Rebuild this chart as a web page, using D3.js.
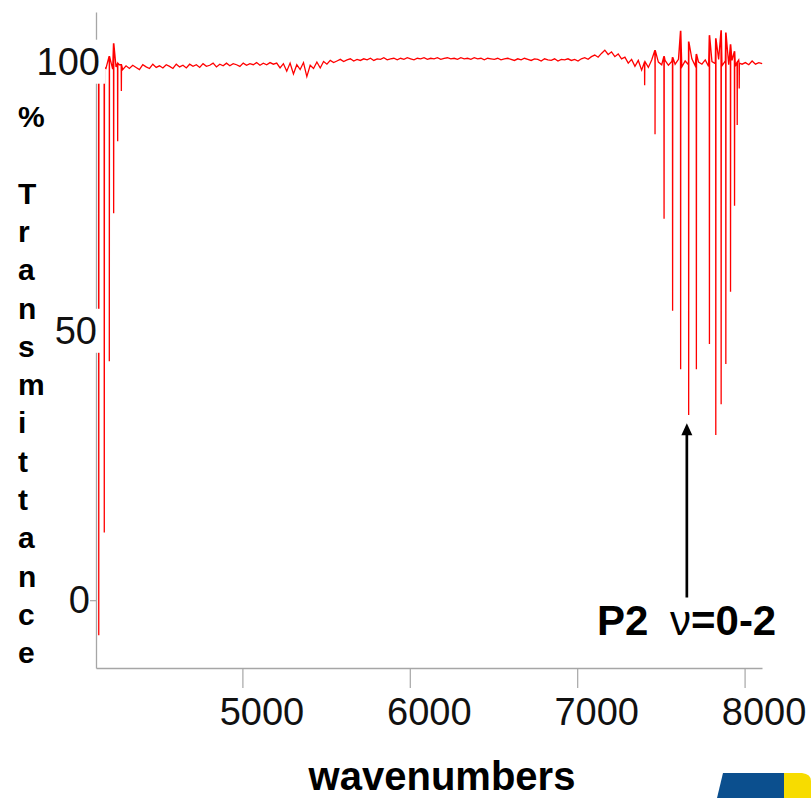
<!DOCTYPE html>
<html>
<head>
<meta charset="utf-8">
<script src="https://cdn.jsdelivr.net/npm/d3@7"></script>
<style>
  body { margin: 0; background: #fff; }
  svg { display: block; }
  text { font-family: "Liberation Sans", Arial, sans-serif; }
</style>
</head>
<body>
<svg id="chart"></svg>
<script>
// axis ticks
const xTicks = [5000, 6000, 7000, 8000];
const yTicks = [0, 50, 100];

// baseline of the spectrum, one sample every 20 cm-1 starting at 4125
const baseStart = 4125, baseStep = 20;
const baseline = [
  99.2, 98.5, 99.4, 98.8, 99.6, 98.7, 99.1, 99.5, 98.6, 99.3,
  98.8, 99.4, 99.0, 98.6, 99.5, 99.1, 98.8, 99.6, 99.0, 99.3,
  98.9, 99.5, 99.2, 98.8, 99.6, 99.1, 99.4, 98.9, 99.6, 99.2,
  99.5, 99.0, 99.7, 99.2, 99.4, 99.8, 99.1, 99.6, 99.3, 99.8,
  99.3, 99.7, 99.5, 99.2, 99.8, 99.4, 99.7, 99.5, 99.9, 99.4,
  99.8, 99.5, 99.9, 99.6, 99.8, 98.9, 99.7, 98.3, 99.8, 97.8,
  99.5, 98.6, 99.9, 97.3, 99.4, 98.8, 100.0, 98.9, 100.1, 99.6,
  100.3, 99.9, 100.2, 100.5, 100.1, 100.4, 100.6, 100.2, 100.5, 100.3,
  100.6, 100.4, 100.7, 100.3, 100.6, 100.5, 100.8, 100.4, 100.6, 100.7,
  100.4, 100.7, 100.5, 100.8, 100.6, 100.4, 100.7, 100.6, 100.8, 100.5,
  100.7, 100.6, 100.8, 100.5, 100.7, 100.8, 100.6, 100.7, 100.5, 100.8,
  100.6, 100.7, 100.5, 100.8, 100.6, 100.7, 100.4, 100.7, 100.6, 100.5,
  100.7, 100.4, 100.6, 100.7, 100.5, 100.3, 100.6, 100.4, 100.7, 100.5,
  100.3, 100.6, 100.5, 100.2, 100.6, 100.4, 100.3, 100.6, 100.2, 100.5,
  100.4, 100.6, 100.3, 100.5, 100.2, 100.6, 100.8, 100.5, 101.0, 101.3,
  100.9, 101.6, 102.2, 101.4, 101.9, 101.0, 101.5, 100.6, 100.9, 99.8,
  100.5, 99.2, 100.3, 98.5, 100.1, 99.0, 100.4, 98.7, 100.0, 99.5,
  100.3, 99.4, 100.1, 99.6, 100.5, 99.1, 100.2, 99.5, 100.6, 99.3,
  100.0, 99.6, 100.4, 99.2, 100.1, 99.7, 100.5, 99.3, 100.2, 99.5,
  100.3, 99.2, 100.4, 99.6, 99.9, 99.5, 100.2, 99.6, 99.9, 99.7
];

// absorption lines: centre (cm-1), minimum %T, top of the line (%T)
const lineCenters = [4142, 4175, 4205, 4231, 4255, 4277,
  7403, 7465, 7519, 7570, 7618, 7666, 7712, 7790, 7828, 7860, 7888, 7916, 7940, 7956, 7968];
const lineMins = [-6.5, 12.6, 44.4, 71.9, 85.3, 94.6,
  95.7, 86.6, 70.9, 53.8, 42.9, 34.4, 42.9, 47.6, 30.7, 36.4, 43.9, 57.3, 73.3, 88.3, 95.1];
const lineTops = [99.0, 99.0, 101.1, 103.5, 99.8, 99.5,
  100.0, 102.2, 101.1, 100.9, 105.8, 103.8, 101.5, 105.0, 104.4, 105.9, 105.5, 103.3, 102.0, 100.0, 99.8];

const arrowAt = 7655;

const width = 811, height = 798;
const margin = {top: 12, left: 96, right: 49, bottom: 130};
const innerW = width - margin.left - margin.right;
const innerH = height - margin.top - margin.bottom;

const svg = d3.select('#chart').attr('width', width).attr('height', height);
const chart = svg.append('g').attr('transform', `translate(${margin.left}, ${margin.top})`);

const x = d3.scaleLinear().domain([4125.5, 8104]).range([0, innerW]);
const y = d3.scaleLinear().domain([-12.6, 109.3]).range([innerH, 0]);

// merge baseline samples and the lines into one trace
let pts = baseline.map((v, i) => [baseStart + i * baseStep, v]);
lineCenters.forEach((c, i) => {
  pts.push([c - 1, lineTops[i]]);
  pts.push([c, lineMins[i]]);
  pts.push([c + 1, lineTops[i]]);
});
pts.sort((a, b) => a[0] - b[0]);

chart.append('path')
  .datum(pts)
  .attr('fill', 'none')
  .attr('stroke', '#ff0000')
  .attr('stroke-width', 1.3)
  .attr('stroke-linejoin', 'miter')
  .attr('d', d3.line().x(d => x(d[0])).y(d => y(d[1])));

// axes
const axisColor = '#a6a6a6';
const xAxis = d3.axisBottom(x).tickValues(xTicks).tickSize(20).tickSizeOuter(0).tickFormat(d3.format('d'));
const gx = chart.append('g').attr('transform', `translate(0, ${innerH})`).call(xAxis);
gx.select('.domain').attr('stroke', axisColor).attr('stroke-width', 1.3);
gx.selectAll('.tick line').attr('stroke', axisColor).attr('stroke-width', 1.2);
gx.selectAll('.tick text')
  .attr('x', 19).attr('y', 57).attr('dy', 0)
  .attr('fill', '#111').style('font-size', '38px');

const yAxis = d3.axisLeft(y).tickValues(yTicks).tickSize(6).tickSizeOuter(0);
const gy = chart.append('g').call(yAxis);
gy.select('.domain').attr('stroke', axisColor).attr('stroke-width', 1.3);
gy.selectAll('.tick line').attr('stroke', axisColor).attr('stroke-width', 1.2);
gy.selectAll('.tick text')
  .attr('x', d => d === 0 ? -6 : d === 50 ? 1 : 4)
  .attr('fill', '#111').style('font-size', '38px');

// white boxes behind the upper labels, they hide the axis and the trace
gy.selectAll('.tick').each(function(d) {
  if (d === 0) return;
  const t = d3.select(this).select('text');
  const b = t.node().getBBox();
  d3.select(this).insert('rect', 'text')
    .attr('x', b.x - 3).attr('y', b.y - 1)
    .attr('width', b.width + 8).attr('height', b.height + 2)
    .attr('fill', '#fff');
});

// y label, one letter per line
const yLabel = ['%', '', 'T', 'r', 'a', 'n', 's', 'm', 'i', 't', 't', 'a', 'n', 'c', 'e'];
svg.append('g').selectAll('text')
  .data(yLabel)
  .join('text')
  .attr('x', 18)
  .attr('y', (d, i) => 127 + i * 38.3)
  .style('font-size', '30px')
  .style('font-weight', 'bold')
  .attr('fill', '#000')
  .text(d => d);

svg.append('text')
  .attr('x', 442).attr('y', 790)
  .attr('text-anchor', 'middle')
  .style('font-size', '40px').style('font-weight', 'bold')
  .attr('fill', '#000')
  .text('wavenumbers');

// annotation arrow
const ax = x(arrowAt);
chart.append('line')
  .attr('x1', ax).attr('x2', ax)
  .attr('y1', y(0.5)).attr('y2', y(31))
  .attr('stroke', '#000').attr('stroke-width', 2.7);
chart.append('path')
  .attr('d', `M${ax},${y(32.9)} L${ax - 5.5},${y(32.9) + 12} L${ax + 5.5},${y(32.9) + 12} Z`)
  .attr('fill', '#000');

svg.append('text')
  .attr('x', 597).attr('y', 635)
  .style('font-size', '42px').style('font-weight', 'bold')
  .attr('fill', '#000')
  .text('P2');
const nu = svg.append('text')
  .attr('x', 670).attr('y', 635)
  .style('font-size', '42px').style('font-weight', 'bold')
  .attr('fill', '#000');
nu.append('tspan').style('font-weight', 'normal').text('ν');
nu.append('tspan').text('=0-2');

// corner logo fragment
svg.append('path')
  .attr('d', 'M723,773 L784,773 L784,798 L717,798 Z')
  .attr('fill', '#0b4f8e');
svg.append('path')
  .attr('d', 'M784,773 L802,773 Q811,774 811,781 L811,798 L784,798 Z')
  .attr('fill', '#f7dc00');
</script>
</body>
</html>
